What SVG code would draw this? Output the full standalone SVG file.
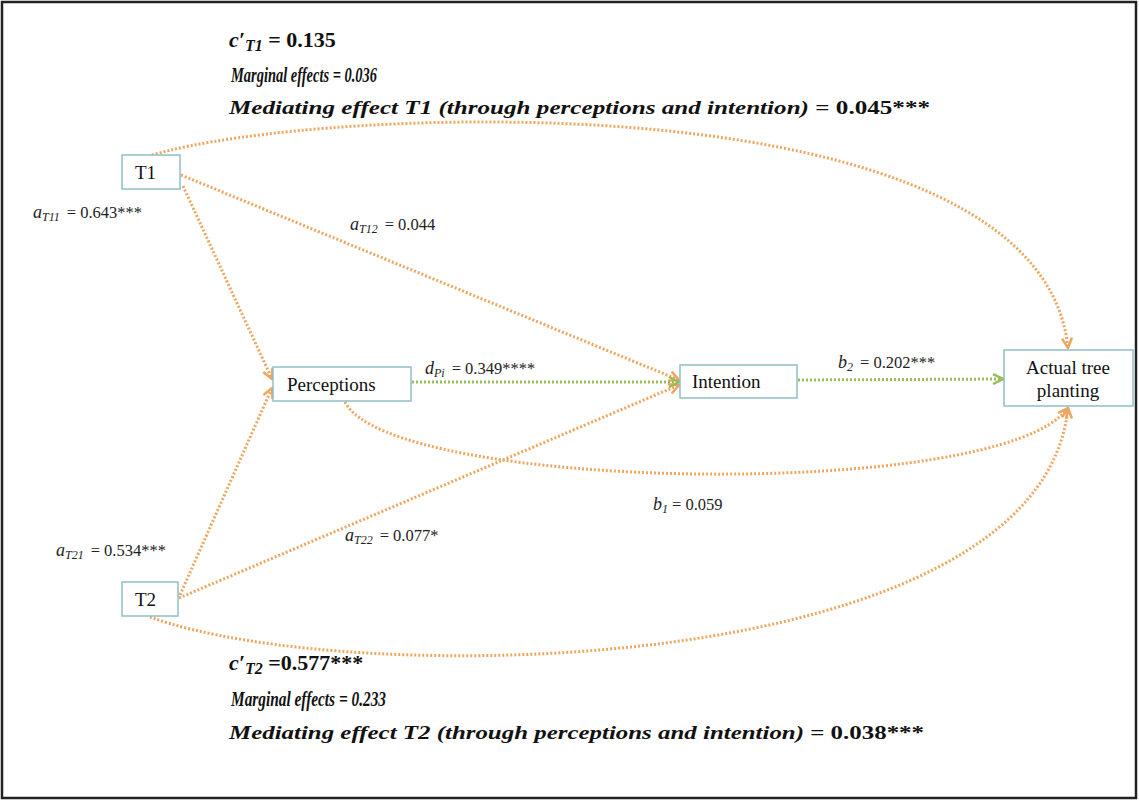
<svg xmlns="http://www.w3.org/2000/svg" width="1139" height="801" viewBox="0 0 1139 801">
<style>
.box{fill:#fff;stroke:#8fbfc7;stroke-width:1.5}
.nt{font-family:'Liberation Serif',serif;font-size:19px;fill:#111}
.lb{font-family:'Liberation Serif',serif;font-size:16.5px;fill:#222}
.it{font-style:italic;font-size:18px}
.sub{font-size:12px;font-style:italic}
.hd{font-family:'Liberation Serif',serif;font-weight:bold;fill:#111}
.or{fill:none;stroke:#eda65f;stroke-width:3;stroke-dasharray:2 2}
.gr{fill:none;stroke:#9dbb5a;stroke-width:3;stroke-dasharray:2 2}
</style>
<defs>
<marker id="ao" viewBox="0 0 12 12" refX="11" refY="6" markerWidth="12" markerHeight="12" markerUnits="userSpaceOnUse" orient="auto">
<path d="M1,1 L11,6 L1,11" fill="none" stroke="#eda65f" stroke-width="2.5"/>
</marker>
<marker id="ag" viewBox="0 0 12 12" refX="11" refY="6" markerWidth="12" markerHeight="12" markerUnits="userSpaceOnUse" orient="auto">
<path d="M1,1 L11,6 L1,11" fill="none" stroke="#9dbb5a" stroke-width="2.5"/>
</marker>
</defs>
<rect x="0" y="0" width="1139" height="801" fill="#fff"/>
<rect x="2" y="2" width="1134" height="796" fill="none" stroke="#222" stroke-width="2.5"/>

<g id="connectors">
<path class="or" d="M152,155 C320,105 1040,75 1068,348" marker-end="url(#ao)"/>
<path class="or" d="M181,175 L679,380" marker-end="url(#ao)"/>
<path class="or" d="M183,186 L272,379" marker-end="url(#ao)"/>
<path class="or" d="M180,595 L272,388" marker-end="url(#ao)"/>
<path class="or" d="M179,598 L679,385" marker-end="url(#ao)"/>
<path class="or" d="M150,617 C350,690 1040,680 1068,408" marker-end="url(#ao)"/>
<path class="or" d="M345,402 C390,492 1000,502 1068,408" marker-end="url(#ao)"/>
<path class="gr" d="M412,382 L679,382" marker-end="url(#ag)"/>
<path class="gr" d="M798,380 L1003,379" marker-end="url(#ag)"/>
</g>

<g id="T1"><rect class="box" x="122" y="155" width="58" height="34"/><text class="nt" font-family="Liberation Serif, serif" x="135" y="179">T1</text></g>
<g id="T2"><rect class="box" x="122" y="582" width="56" height="34"/><text class="nt" font-family="Liberation Serif, serif" x="135" y="606">T2</text></g>
<g id="Perceptions"><rect class="box" x="273" y="367" width="138" height="34"/><text class="nt" font-family="Liberation Serif, serif" x="287" y="391">Perceptions</text></g>
<g id="Intention"><rect class="box" x="680" y="365" width="117" height="33"/><text class="nt" font-family="Liberation Serif, serif" x="692" y="388">Intention</text></g>
<g id="Actual"><rect class="box" x="1004" y="350" width="129" height="56"/><text class="nt" font-family="Liberation Serif, serif" x="1068" y="374" text-anchor="middle">Actual tree</text><text class="nt" font-family="Liberation Serif, serif" x="1068" y="397" text-anchor="middle">planting</text></g>

<g id="labels" font-family="Liberation Serif, serif">
<text class="lb" x="33" y="218"><tspan class="it">a</tspan><tspan class="sub" dy="3">T11</tspan><tspan dy="-3" dx="7">= 0.643***</tspan></text>
<text class="lb" x="350" y="230"><tspan class="it">a</tspan><tspan class="sub" dy="3">T12</tspan><tspan dy="-3" dx="7">= 0.044</tspan></text>
<text class="lb" x="425" y="374"><tspan class="it">d</tspan><tspan class="sub" dy="3">Pi</tspan><tspan dy="-3" dx="7">= 0.349****</tspan></text>
<text class="lb" x="838" y="368"><tspan class="it">b</tspan><tspan class="sub" dy="3">2</tspan><tspan dy="-3" dx="7">= 0.202***</tspan></text>
<text class="lb" x="653" y="510"><tspan class="it">b</tspan><tspan class="sub" dy="3">1</tspan><tspan dy="-3" dx="4">= 0.059</tspan></text>
<text class="lb" x="56" y="556"><tspan class="it">a</tspan><tspan class="sub" dy="3">T21</tspan><tspan dy="-3" dx="7">= 0.534***</tspan></text>
<text class="lb" x="345" y="541"><tspan class="it">a</tspan><tspan class="sub" dy="3">T22</tspan><tspan dy="-3" dx="7">= 0.077*</tspan></text>
</g>

<g id="top-text" font-family="Liberation Serif, serif">
<text class="hd" x="229" y="47" font-size="22"><tspan font-style="italic">c′</tspan><tspan font-style="italic" font-size="16" dy="4">T1</tspan><tspan dy="-4"> = 0.135</tspan></text>
<text class="hd" x="231" y="82" font-size="22" font-style="italic" textLength="146" lengthAdjust="spacingAndGlyphs">Marginal effects = 0.036</text>
<text class="hd" x="229" y="114" font-size="19" textLength="701" lengthAdjust="spacingAndGlyphs"><tspan font-style="italic">Mediating effect T1 (through perceptions and intention)</tspan> = 0.045***</text>
</g>
<g id="bottom-text" font-family="Liberation Serif, serif">
<text class="hd" x="229" y="670" font-size="22"><tspan font-style="italic">c′</tspan><tspan font-style="italic" font-size="16" dy="4">T2</tspan><tspan dy="-4"> =0.577***</tspan></text>
<text class="hd" x="231" y="706" font-size="22" font-style="italic" textLength="155" lengthAdjust="spacingAndGlyphs">Marginal effects =  0.233</text>
<text class="hd" x="229" y="739" font-size="19" textLength="695" lengthAdjust="spacingAndGlyphs"><tspan font-style="italic">Mediating effect T2 (through perceptions and intention)</tspan> = 0.038***</text>
</g>
</svg>
